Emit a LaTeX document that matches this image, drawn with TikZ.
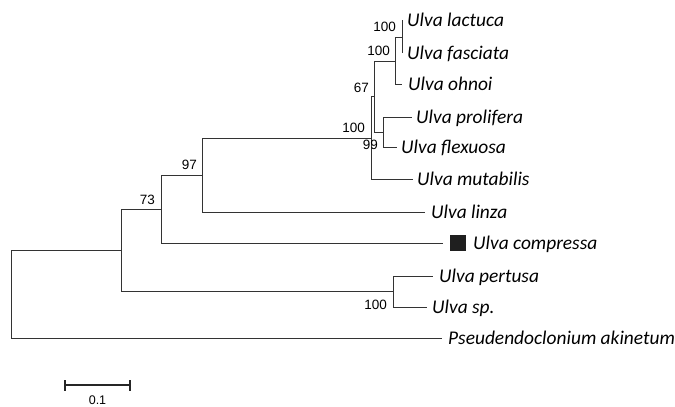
\documentclass[tikz,border=0pt]{standalone}
\usepackage{fontspec}
\newfontfamily\taxonfont{Carlito}
\newfontfamily\supportfont{Liberation Sans}
\begin{document}
\begin{tikzpicture}[x=1pt,y=-1pt,
  branch/.style={draw=black!80, line width=1pt},
  taxon/.style={anchor=base west, inner sep=0pt, font=\taxonfont\itshape\fontsize{19.4}{22}\selectfont},
  boot/.style={anchor=base east, inner sep=0pt, font=\supportfont\fontsize{13.5}{15}\selectfont},
  bootbelow/.style={boot},
  scalebar/.style={draw=black!85, line width=2.4pt}
]
\useasboundingbox (0,0) rectangle (675,407);

% internal nodes (x = depth, y = midpoint of children)
\coordinate (root) at (11,250);
\coordinate (nI) at (121,250);
\coordinate (nG) at (161,209);
\coordinate (nF) at (202,175);
\coordinate (nE) at (371,138);
\coordinate (nD) at (374,96.5);
\coordinate (nB) at (395,61);
\coordinate (nA) at (402,37);
\coordinate (nC) at (383,132);
\coordinate (nH) at (393,291.5);

% tips
\coordinate (lactuca) at (402,20);
\coordinate (fasciata) at (402,53);
\coordinate (ohnoi) at (402,84);
\coordinate (prolifera) at (412,117);
\coordinate (flexuosa) at (397,147);
\coordinate (mutabilis) at (413,179);
\coordinate (linza) at (425,212);
\coordinate (compressa) at (443,243);
\coordinate (pertusa) at (433,276);
\coordinate (sp) at (427,307);
\coordinate (pseud) at (442,338);

% branches
\draw[branch] (root) |- (nI);
\draw[branch] (root) |- (pseud);
\draw[branch] (nI) |- (nG);
\draw[branch] (nI) |- (nH);
\draw[branch] (nG) |- (nF);
\draw[branch] (nG) |- (compressa);
\draw[branch] (nF) |- (nE);
\draw[branch] (nF) |- (linza);
\draw[branch] (nE) |- (nD);
\draw[branch] (nE) |- (mutabilis);
\draw[branch] (nD) |- (nB);
\draw[branch] (nD) |- (nC);
\draw[branch] (nB) |- (nA);
\draw[branch] (nB) |- (ohnoi);
\draw[branch] (nA) |- (lactuca);
\draw[branch] (nA) |- (fasciata);
\draw[branch] (nC) |- (prolifera);
\draw[branch] (nC) |- (flexuosa);
\draw[branch] (nH) |- (pertusa);
\draw[branch] (nH) |- (sp);

% taxon labels
\node[taxon] (lLactuca) at ([shift={(5,6.2)}]lactuca) {Ulva lactuca};
\node[taxon] (lFasciata) at ([shift={(5,6.2)}]fasciata) {Ulva fasciata};
\node[taxon] (lOhnoi) at ([shift={(6,6.2)}]ohnoi) {Ulva ohnoi};
\node[taxon] (lProlifera) at ([shift={(4,6.2)}]prolifera) {Ulva prolifera};
\node[taxon] (lFlexuosa) at ([shift={(4,6.2)}]flexuosa) {Ulva flexuosa};
\node[taxon] (lMutabilis) at ([shift={(4,6.2)}]mutabilis) {Ulva mutabilis};
\node[taxon] (lLinza) at ([shift={(6,6.2)}]linza) {Ulva linza};
\node[fill=black!88, inner sep=0pt, minimum size=16pt] (marker) at ([shift={(14.5,-0.5)}]compressa) {};
\node[taxon] (lCompressa) at ([shift={(30,6.2)}]compressa) {Ulva compressa};
\node[taxon] (lPertusa) at ([shift={(6,6.2)}]pertusa) {Ulva pertusa};
\node[taxon] (lSp) at ([shift={(5,6.2)}]sp) {Ulva sp.};
\node[taxon] (lPseud) at ([shift={(6,6.2)}]pseud) {Pseudendoclonium akinetum};

% bootstrap support
\node[boot] (bA) at ([shift={(-6,-6)}]nA) {100};
\node[boot] (bB) at ([shift={(-5,-6)}]nB) {100};
\node[boot] (bD) at ([shift={(-5,-4.5)}]nD) {67};
\node[boot] (bE) at ([shift={(-6,-6)}]nE) {100};
\node[boot] (bC) at ([shift={(-5,17)}]nC) {99};
\node[boot] (bF) at ([shift={(-5,-6)}]nF) {97};
\node[boot] (bG) at ([shift={(-6,-5)}]nG) {73};
\node[boot] (bH) at ([shift={(-6,17.5)}]nH) {100};

% scale bar
\coordinate (sbL) at (65,385);
\coordinate (sbR) at (130,385);
\draw[scalebar] (sbL) -- (sbR);
\draw[scalebar] ([yshift=-5.5pt]sbL) -- ([yshift=5.5pt]sbL);
\draw[scalebar] ([yshift=-5.5pt]sbR) -- ([yshift=5.5pt]sbR);
\node[anchor=base, inner sep=0pt, font=\supportfont\fontsize{12.5}{14}\selectfont] (sbText) at (97.5,404) {0.1};
\end{tikzpicture}
\end{document}
